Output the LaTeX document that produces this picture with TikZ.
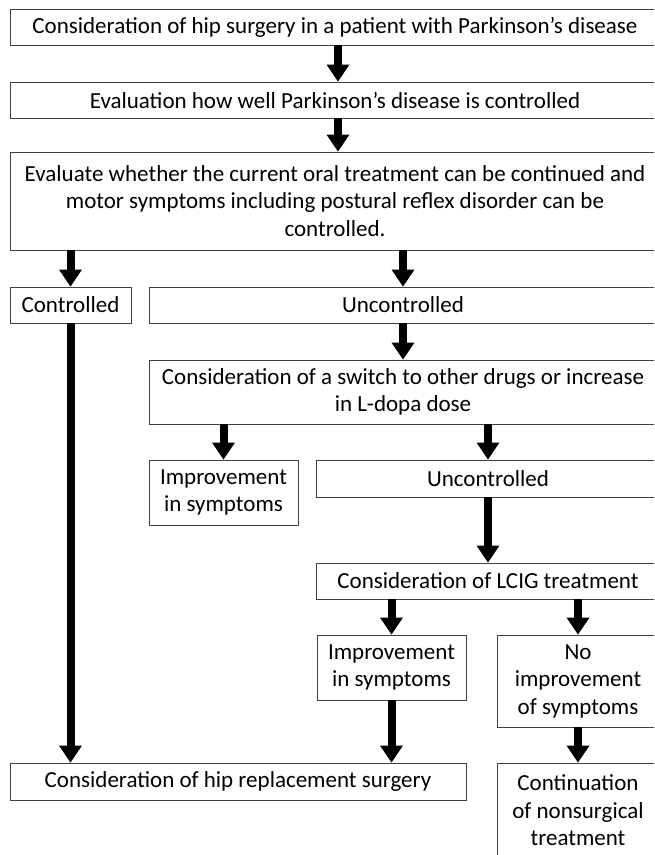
\documentclass[tikz,border=0pt]{standalone}
\usepackage{fontspec}
\setmainfont{Carlito}
\usetikzlibrary{arrows.meta}
\tikzset{
  flowbox/.style={draw=black!75, line width=0.9pt, fill=white, align=center,
    font=\fontsize{23}{27.5}\selectfont, inner sep=0pt},
  flowarrow/.style={-{Triangle[length=17pt,width=23pt,line width=0pt]}, line width=8pt},
}
\begin{document}
\begin{tikzpicture}[x=1pt,y=-1pt]
  \clip (0,0) rectangle (654,855);
  \fill[white] (0,0) rectangle (654,855);
  % first steps
  \node[flowbox, minimum width=650pt, minimum height=36pt] (start) at (335,27) {Consideration of hip surgery in a patient with Parkinson’s disease};
  \node[flowbox, minimum width=650pt, minimum height=36pt] (eval) at (335,100) {Evaluation how well Parkinson’s disease is controlled};
  \node[flowbox, minimum width=650pt, minimum height=98pt] (oral) at (335,201) {Evaluate whether the current oral treatment can be continued and\\motor symptoms including postural reflex disorder can be\\controlled.};
  % oral treatment outcome
  \node[flowbox, minimum width=121pt, minimum height=36pt] (ctrl) at (70.5,305) {Controlled};
  \node[flowbox, minimum width=508pt, minimum height=36pt] (unctrl) at (403,305) {Uncontrolled};
  \node[flowbox, minimum width=508pt, minimum height=64pt] (switch) at (403,392) {Consideration of a switch to other drugs or increase\\in L-dopa dose};
  % after switch
  \node[flowbox, minimum width=149pt, minimum height=65pt] (improveA) at (223.5,492.5) {Improvement\\in symptoms};
  \node[flowbox, minimum width=344pt, minimum height=37pt] (unctrlB) at (488,478.5) {Uncontrolled};
  \node[flowbox, minimum width=344pt, minimum height=36pt] (lcig) at (488,581) {Consideration of LCIG treatment};
  % after LCIG
  \node[flowbox, minimum width=149pt, minimum height=65pt] (improveB) at (391.5,667.5) {Improvement\\in symptoms};
  \node[flowbox, minimum width=162pt, minimum height=92pt] (noimprove) at (578,681) {No\\improvement\\of symptoms};
  % final
  \node[flowbox, minimum width=456pt, minimum height=37pt] (hip) at (238,781.5) {Consideration of hip replacement surgery};
  \node[flowbox, minimum width=162pt, minimum height=95pt] (cont) at (578,810.5) {Continuation\\of nonsurgical\\treatment};
  % arrows
  \draw[flowarrow] ([xshift=3pt]start.south) -- ([xshift=3pt]eval.north);
  \draw[flowarrow] ([xshift=3pt]eval.south) -- ([xshift=3pt]oral.north);
  \draw[flowarrow] (oral.south -| ctrl.north) -- (ctrl.north);
  \draw[flowarrow] (oral.south -| unctrl.north) -- (unctrl.north);
  \draw[flowarrow] (ctrl.south) -- (ctrl.south |- hip.north);
  \draw[flowarrow] (unctrl.south) -- (switch.north);
  \draw[flowarrow] (switch.south -| improveA.north) -- (improveA.north);
  \draw[flowarrow] (switch.south -| unctrlB.north) -- (unctrlB.north);
  \draw[flowarrow] (unctrlB.south) -- (lcig.north);
  \draw[flowarrow] (lcig.south -| improveB.north) -- (improveB.north);
  \draw[flowarrow] (lcig.south -| noimprove.north) -- (noimprove.north);
  \draw[flowarrow] (improveB.south) -- (improveB.south |- hip.north);
  \draw[flowarrow] (noimprove.south) -- (cont.north);
\end{tikzpicture}
\end{document}
